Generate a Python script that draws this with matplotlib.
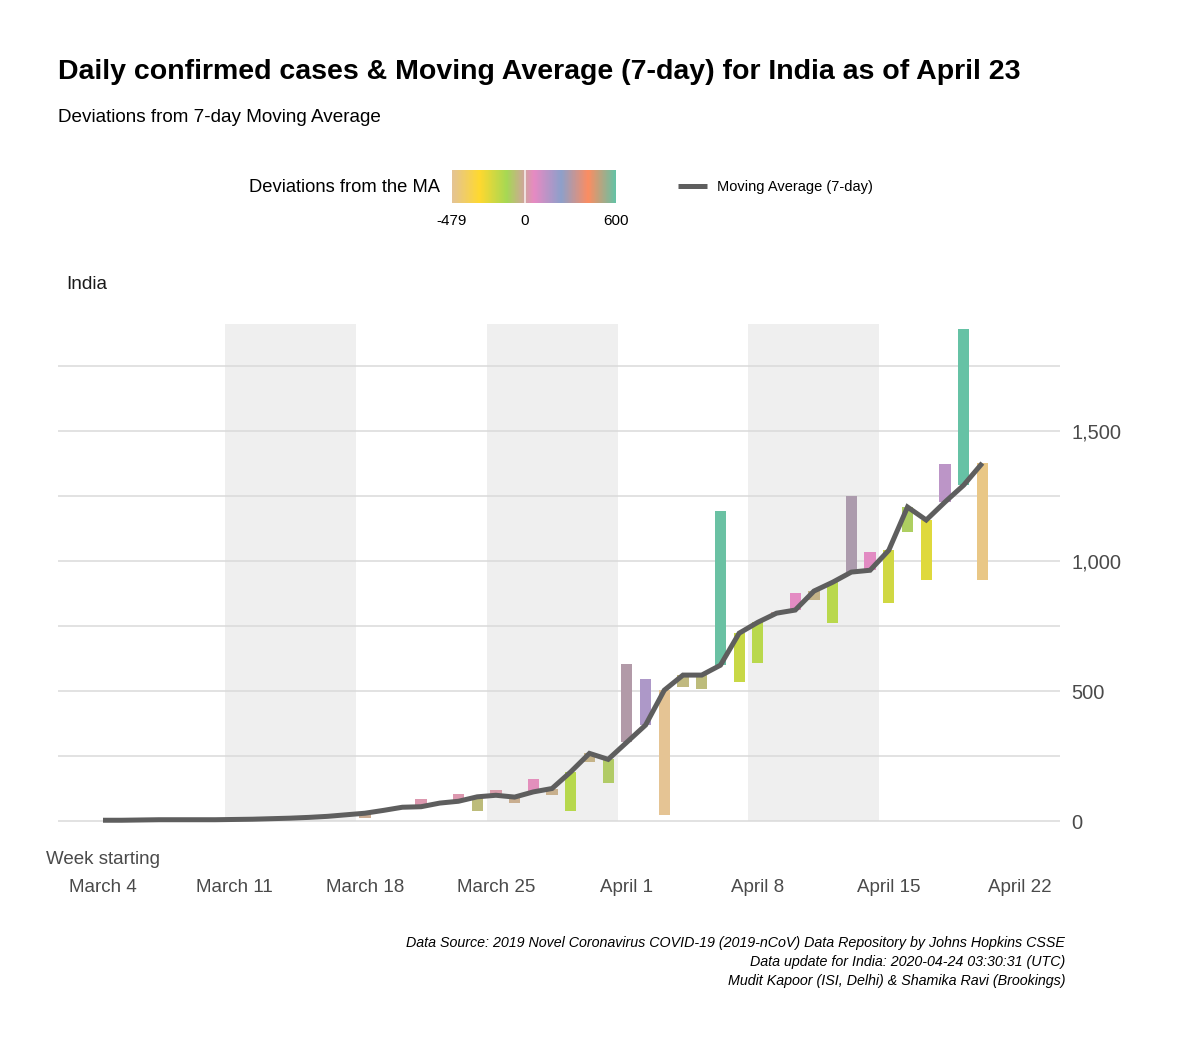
import numpy as np
import matplotlib
matplotlib.use("Agg")
import matplotlib.pyplot as plt
from matplotlib.colors import LinearSegmentedColormap, Normalize
from matplotlib.lines import Line2D

plt.rcParams['font.family'] = ['Liberation Sans', 'DejaVu Sans']

# ---------------- data ----------------
days = np.arange(48)  # March 4 .. April 20
ma = [4, 4, 5, 6, 6, 6, 6, 7, 8, 10,
      12, 15, 19, 25, 31, 42, 54, 56, 70, 77,
      94, 100, 93, 113, 126, 190, 261, 238, 304, 370,
      504, 562, 562, 600, 723, 765, 800, 812, 885, 919,
      958, 965, 1042, 1208, 1158, 1227, 1292, 1377]
actual = [5, 3, 6, 7, 5, 7, 6, 8, 9, 11,
          13, 14, 20, 26, 14, 43, 56, 86, 72, 104,
          38, 120, 72, 161, 100, 38, 228, 147, 604, 546,
          25, 517, 508, 1192, 535, 607, 805, 877, 850, 762,
          1250, 1035, 838, 1112, 927, 1373, 1892, 927]
week_ticks = [0, 7, 14, 21, 28, 35, 42, 49]
week_labels = ["March 4", "March 11", "March 18", "March 25",
               "April 1", "April 8", "April 15", "April 22"]
band_starts = [6.5, 20.5, 34.5]
band_ends = [13.5, 27.5, 41.5]
band_top = 1912
yticks = [0, 500, 1000, 1500]
ytick_labels = ["0", "500", "1,000", "1,500"]
palette = ["#E5C494", "#FFD92F", "#A6D854", "#E78AC3", "#8DA0CB", "#FC8D62", "#66C2A5"]

ma = np.array(ma, dtype=float)
actual = np.array(actual, dtype=float)
dev = actual - ma
vmin, vmax = dev.min(), dev.max()

cmap = LinearSegmentedColormap.from_list("dev", palette)
norm = Normalize(vmin=vmin, vmax=vmax)

W, H = 1200, 1048
fig = plt.figure(figsize=(W / 100, H / 100), dpi=100)

def fx(px):
    return px / W

def fy(py):
    return 1 - py / H

ax = fig.add_axes([fx(58), fy(846), fx(1060) - fx(58), fy(301) - fy(846)])
ax.set_xlim(-2.405, 51.15)
ax.set_ylim(-95, 2000)

# shaded weeks
for s, e in zip(band_starts, band_ends):
    ax.fill_between([s, e], 0, band_top, color="#EFEFEF", lw=0, zorder=0)

# grid lines
for g in [0, 250, 500, 750, 1000, 1250, 1500, 1750]:
    ax.axhline(g, color="#DADADA", lw=1.1, zorder=1)

# deviation bars
ax.bar(days, dev, bottom=ma, width=0.6, color=cmap(norm(dev)), zorder=2, linewidth=0)
# moving average line
ax.plot(days, ma, color="#5E5E5E", lw=3.6, zorder=3, solid_capstyle="butt", solid_joinstyle="miter")

for sp in ax.spines.values():
    sp.set_visible(False)
ax.yaxis.tick_right()
ax.set_yticks(yticks)
ax.set_yticklabels(ytick_labels)
ax.set_xticks(week_ticks)
ax.set_xticklabels(week_labels)
ax.tick_params(axis="both", length=0, labelcolor="#4A4A4A")
ax.tick_params(axis="y", pad=8, labelsize=14.5)
ax.tick_params(axis="x", pad=24, labelsize=13.5)
for lbl in ax.get_yticklabels():
    lbl.set_horizontalalignment("left")

fig.text(fx(103), fy(860), "Week starting", ha="center", va="center", fontsize=13.5, color="#4A4A4A")

# titles
fig.text(fx(58), fy(72), "Daily confirmed cases & Moving Average (7-day) for India as of April 23",
         ha="left", va="center", fontsize=20.5, fontweight="bold", color="black")
fig.text(fx(58), fy(118), "Deviations from 7-day Moving Average",
         ha="left", va="center", fontsize=13.6, color="black")
fig.text(fx(66), fy(284), "India", ha="left", va="center", fontsize=13.7, color="#1A1A1A")

# colour legend
fig.text(fx(440), fy(188), "Deviations from the MA", ha="right", va="center", fontsize=13.2, color="black")
cax = fig.add_axes([fx(452), fy(203), fx(616) - fx(452), fy(170) - fy(203)])
grad = np.linspace(vmin, vmax, 300).reshape(1, -1)
cax.imshow(grad, aspect="auto", cmap=cmap, norm=norm, extent=[vmin, vmax, 0, 1])
cax.axvline(0, color="white", lw=1.2, alpha=0.8)
cax.set_xlim(vmin, vmax)
cax.set_axis_off()
for v in [vmin, 0, vmax]:
    xp = 452 + (v - vmin) / (vmax - vmin) * (616 - 452)
    fig.text(fx(xp), fy(221), f"{int(round(v))}", ha="center", va="center", fontsize=11, color="black")

# line legend
lax = fig.add_axes([0, 0, 1, 1], facecolor="none")
lax.set_axis_off()
lax.set_xlim(0, 1)
lax.set_ylim(0, 1)
lax.add_line(Line2D([fx(678), fx(707)], [fy(186), fy(186)], color="#5E5E5E", lw=3.6, solid_capstyle="butt"))
fig.text(fx(717), fy(187), "Moving Average (7-day)", ha="left", va="center", fontsize=10.5, color="black")

# caption
cap = ["Data Source: 2019 Novel Coronavirus COVID-19 (2019-nCoV) Data Repository by Johns Hopkins CSSE",
       "Data update for India: 2020-04-24 03:30:31 (UTC)",
       "Mudit Kapoor (ISI, Delhi) & Shamika Ravi (Brookings)"]
for i, c in enumerate(cap):
    fig.text(fx(1065), fy(943 + 19 * i), c, ha="right", va="center", fontsize=10.3,
             style="italic", color="black")

fig.savefig("out.png", dpi=100, facecolor="white")
